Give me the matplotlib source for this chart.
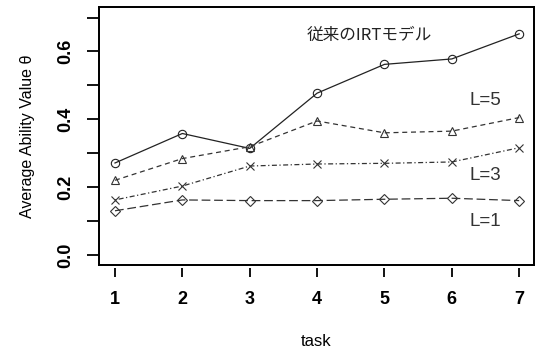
import matplotlib
matplotlib.use("Agg")
import matplotlib.pyplot as plt
from matplotlib.patches import Rectangle
from matplotlib.ticker import MultipleLocator

tasks = [1, 2, 3, 4, 5, 6, 7]
irt = [0.271, 0.358, 0.314, 0.477, 0.562, 0.578, 0.652]
l5 = [0.220, 0.284, 0.319, 0.395, 0.360, 0.365, 0.405]
l3 = [0.162, 0.203, 0.262, 0.268, 0.270, 0.274, 0.316]
l1 = [0.130, 0.162, 0.160, 0.160, 0.164, 0.167, 0.160]

plt.rcParams['font.family'] = ['Liberation Sans', 'Noto Sans CJK JP']
plt.rcParams['axes.spines.top'] = True
plt.rcParams['axes.spines.right'] = True

fig = plt.figure(figsize=(5.37, 3.49), dpi=100)
ax = fig.add_axes([0.1844, 0.2407, 0.8100, 0.7380])

lc = '#333333'
mk = dict(markerfacecolor='none', markersize=6, markeredgewidth=0.8)
ax.plot(tasks, irt, color='#222222', lw=0.9, marker='o', markeredgecolor='#222222', **mk)
ax.plot(tasks, l5, color=lc, lw=0.9, marker='^', markeredgecolor=lc, dashes=(4, 3), **mk)
ax.plot(tasks, l3, color=lc, lw=0.9, marker='x', markeredgecolor=lc, dashes=(1, 2, 4, 2), **mk)
ax.plot(tasks, l1, color=lc, lw=0.9, marker='D', markeredgecolor=lc, dashes=(7, 3), markersize=5.5,
        markerfacecolor='none', markeredgewidth=0.8)

# labels in the plot
ax.text(3.84, 0.647, '従来のIRTモデル', fontsize=12, color='#222222', va='center',
        family=['Noto Sans CJK JP', 'DejaVu Sans'])
ax.text(6.26, 0.456, 'L=5', fontsize=13.5, color=lc, va='center')
ax.text(6.26, 0.235, 'L=3', fontsize=13.5, color=lc, va='center')
ax.text(6.26, 0.097, 'L=1', fontsize=13.5, color=lc, va='center')

ax.set_xlim(0.763, 7.22)
ax.set_ylim(-0.03, 0.73)
ax.yaxis.set_major_locator(MultipleLocator(0.2))
ax.yaxis.set_minor_locator(MultipleLocator(0.1))
ax.yaxis.set_major_formatter(plt.FuncFormatter(lambda v, p: f"{v:.1f}"))

# x ticks on a secondary axis a little below the box (R style)
ax.tick_params(axis='x', bottom=False, labelbottom=False)
sec = ax.secondary_xaxis(-0.012)
sec.spines['bottom'].set_visible(False)
sec.set_xticks(tasks)
sec.tick_params(axis='x', length=6.5, width=1.3, pad=10, labelsize=13)
for t in sec.get_xticklabels():
    t.set_fontweight('bold')

ax.tick_params(axis='y', which='both', length=8.5, width=1.3, pad=9, labelsize=13)
ax.tick_params(axis='y', which='minor', labelleft=False)
for t in ax.get_yticklabels():
    t.set_fontweight('bold')
    t.set_rotation(90)
    t.set_va('center')

sec.set_xlabel('task', fontsize=12, labelpad=19)
ax.set_ylabel('Average Ability Value θ', fontsize=11.5, labelpad=16)

# full box: spines plus a frame drawn at figure level round the axes
for name in ['left', 'right', 'top', 'bottom']:
    ax.spines[name].set_visible(True)
    ax.spines[name].set_color('#000000')
    ax.spines[name].set_linewidth(1.3)
pos = ax.get_position()
fig.add_artist(Rectangle((pos.x0, pos.y0), pos.width, pos.height,
                         transform=fig.transFigure, fill=False,
                         edgecolor='#000000', lw=1.3, zorder=20))

fig.savefig('out.png', dpi=100)
